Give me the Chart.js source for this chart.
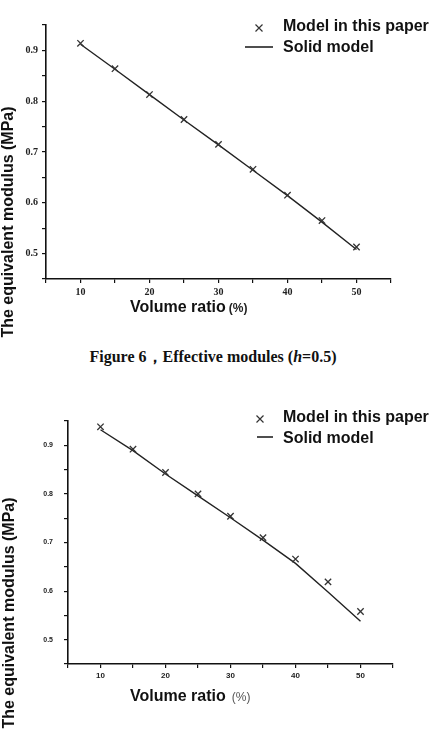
<!DOCTYPE html>
<html><head><meta charset="utf-8">
<script src="https://cdn.jsdelivr.net/npm/chart.js@4.4.0/dist/chart.umd.min.js"></script>
<style>
html,body{margin:0;padding:0;background:#fff;width:446px;height:730px;overflow:hidden;position:relative;}
#c1{position:absolute;left:0;top:0;}
#c2{position:absolute;left:0;top:380px;}
#cap{position:absolute;left:0;width:426px;top:347px;text-align:center;font:bold 16px "Liberation Serif","Times New Roman",serif;color:#111;white-space:nowrap;}
</style></head><body>
<canvas id="c1" width="446" height="345"></canvas>
<div id="cap">Figure 6，Effective modules (<i>h</i>=0.5)</div>
<canvas id="c2" width="446" height="350"></canvas>
<script>
// ---- data ----
const volumeRatio = [10, 15, 20, 25, 30, 35, 40, 45, 50];
const paperModelTop = [0.914, 0.864, 0.813, 0.764, 0.715, 0.666, 0.615, 0.565, 0.513];
const solidModelTop = [0.912, 0.863, 0.813, 0.763, 0.714, 0.664, 0.614, 0.562, 0.508];
const paperModelBottom = [0.938, 0.892, 0.844, 0.800, 0.754, 0.710, 0.666, 0.619, 0.558];
const solidModelBottom = [0.932, 0.889, 0.841, 0.796, 0.751, 0.705, 0.657, 0.598, 0.538];
const xTickLabels = [10, 20, 30, 40, 50];
const yTickLabels = [0.5, 0.6, 0.7, 0.8, 0.9];
const seriesNames = ["Model in this paper", "Solid model"];
const xTitle = "Volume ratio";
const xUnit = "(%)";
const yTitle = "The equivalent modulus (MPa)";

const decor = {
  id: 'decor',
  afterDraw(chart, args, o) {
    const ctx = chart.ctx;
    ctx.save();
    ctx.strokeStyle = '#333';
    ctx.lineWidth = 1.2;
    const s = 3.5;
    ctx.beginPath();
    ctx.moveTo(o.mx - s, o.my - s); ctx.lineTo(o.mx + s, o.my + s);
    ctx.moveTo(o.mx + s, o.my - s); ctx.lineTo(o.mx - s, o.my + s);
    ctx.stroke();
    ctx.strokeStyle = '#222';
    ctx.lineWidth = 1.6;
    ctx.beginPath(); ctx.moveTo(o.lx1, o.ly); ctx.lineTo(o.lx2, o.ly); ctx.stroke();
    ctx.fillStyle = '#111';
    ctx.textBaseline = 'middle';
    ctx.textAlign = 'left';
    ctx.font = 'bold 16px "Liberation Sans", Arial, sans-serif';
    ctx.fillText(chart.data.datasets[0].label, o.tx, o.ty1);
    ctx.fillText(chart.data.datasets[1].label, o.tx, o.ty2);
    ctx.fillText(xTitle, o.xtx, o.xty);
    const w = ctx.measureText(xTitle).width;
    ctx.font = o.unitFont;
    ctx.fillStyle = o.unitColor;
    ctx.fillText(xUnit, o.xtx + w + o.unitGap, o.xty + 1);
    ctx.translate(o.ytx, o.yty);
    ctx.rotate(-Math.PI / 2);
    ctx.font = 'bold 16px "Liberation Sans", Arial, sans-serif';
    ctx.fillStyle = '#111';
    ctx.textAlign = 'center';
    ctx.fillText(yTitle, 0, 0);
    ctx.restore();
  }
};

function makeChart(id, model, solid, g, f, d) {
  const H = document.getElementById(id).height;
  return new Chart(document.getElementById(id), {
    type: 'scatter',
    data: {
      datasets: [
        { label: seriesNames[0], data: volumeRatio.map((x, i) => ({ x, y: model[i] })),
          showLine: false, pointStyle: 'crossRot', pointRadius: 4.5, pointBorderWidth: 1.3,
          borderColor: '#333', backgroundColor: '#333' },
        { label: seriesNames[1], data: volumeRatio.map((x, i) => ({ x, y: solid[i] })),
          showLine: true, pointRadius: 0, borderWidth: 1.4, borderColor: '#222', tension: 0 }
      ]
    },
    options: {
      responsive: false, animation: false, devicePixelRatio: 1,
      layout: { padding: { top: g.top, right: 446 - g.right, left: 0, bottom: 0 } },
      plugins: { legend: { display: false }, tooltip: { enabled: false }, decor: d },
      scales: {
        x: {
          type: 'linear', min: 5, max: 55,
          afterFit: s => { s.height = H - g.bottom; },
          grid: { display: true, drawOnChartArea: false, drawTicks: true, tickLength: 4, color: '#111', lineWidth: 1.2 },
          border: { display: true, color: '#111', width: 1.6 },
          ticks: { stepSize: 5, autoSkip: false, maxRotation: 0, padding: 3, color: '#222', font: f.x,
            callback: v => xTickLabels.includes(Math.round(v * 1000) / 1000) ? String(Math.round(v)) : '' }
        },
        y: {
          type: 'linear', min: 0.45, max: 0.95,
          afterFit: s => { s.width = g.left; },
          grid: { display: true, drawOnChartArea: false, drawTicks: true, tickLength: 4, color: '#111', lineWidth: 1.2 },
          border: { display: true, color: '#111', width: 1.6 },
          ticks: { stepSize: 0.05, autoSkip: false, padding: f.yPad, color: '#222', font: f.y,
            callback: v => { const t = yTickLabels.find(t => Math.abs(t - v) < 1e-6); return t === undefined ? '' : t.toFixed(1); } }
        }
      }
    },
    plugins: [decor]
  });
}

makeChart('c1', paperModelTop, solidModelTop,
  { left: 46, right: 391, top: 25, bottom: 279 },
  { x: { family: '"Liberation Serif", serif', size: 10, weight: 'bold' },
    y: { family: '"Liberation Serif", serif', size: 10, weight: 'bold' }, yPad: 4 },
  { mx: 259, my: 28, lx1: 245, lx2: 273, ly: 47, tx: 283, ty1: 27, ty2: 48,
    xtx: 130, xty: 308, ytx: 9, yty: 222,
    unitFont: 'bold 12px "Liberation Sans", Arial, sans-serif', unitColor: '#222', unitGap: 3 });

makeChart('c2', paperModelBottom, solidModelBottom,
  { left: 68, right: 393, top: 41, bottom: 284 },
  { x: { family: '"Liberation Sans", Arial, sans-serif', size: 8, weight: 'bold' },
    y: { family: '"Liberation Sans", Arial, sans-serif', size: 7, weight: 'bold' }, yPad: 11 },
  { mx: 260, my: 39, lx1: 257, lx2: 273, ly: 57, tx: 283, ty1: 38, ty2: 59,
    xtx: 130, xty: 317, ytx: 10, yty: 233,
    unitFont: '12px "Liberation Sans", Arial, sans-serif', unitColor: '#555', unitGap: 6 });
</script>
</body></html>
